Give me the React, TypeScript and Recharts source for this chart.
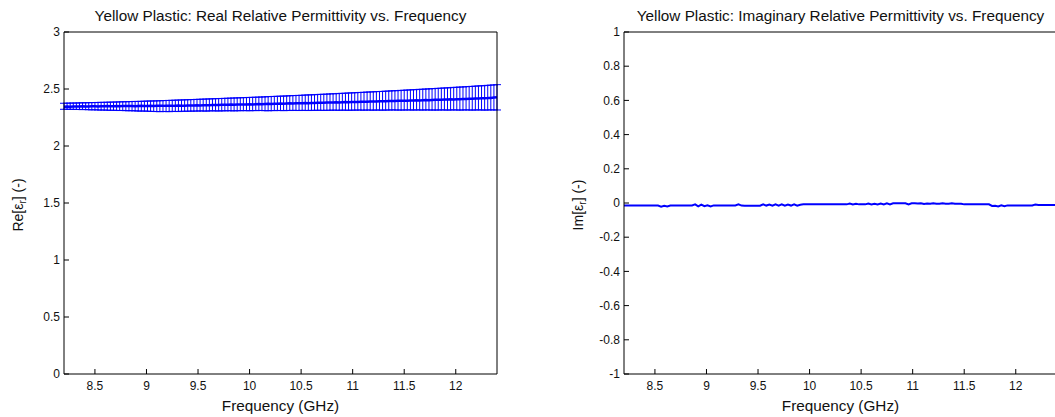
import React from 'react';
import { LineChart, Line, XAxis, YAxis, ErrorBar } from 'recharts';

const FONT = '"Liberation Sans", Arial, Helvetica, sans-serif';
const BLUE = '#0000ff';

const TITLE_RE = 'Yellow Plastic: Real Relative Permittivity vs. Frequency';
const TITLE_IM = 'Yellow Plastic: Imaginary Relative Permittivity vs. Frequency';
const X_LABEL = 'Frequency (GHz)';

const X_TICKS = [8.5, 9, 9.5, 10, 10.5, 11, 11.5, 12];
const RE_Y_TICKS = [0, 0.5, 1, 1.5, 2, 2.5, 3];
const IM_Y_TICKS = [-1, -0.8, -0.6, -0.4, -0.2, 0, 0.2, 0.4, 0.6, 0.8, 1];

const FREQ = [
  8.2, 8.23, 8.26, 8.29, 8.32, 8.35, 8.38, 8.41, 8.44, 8.47,
  8.5, 8.53, 8.56, 8.59, 8.62, 8.65, 8.68, 8.71, 8.74, 8.77,
  8.8, 8.83, 8.86, 8.89, 8.92, 8.95, 8.98, 9.01, 9.04, 9.07,
  9.1, 9.13, 9.16, 9.19, 9.22, 9.25, 9.28, 9.31, 9.34, 9.37,
  9.4, 9.43, 9.46, 9.49, 9.52, 9.55, 9.58, 9.61, 9.64, 9.67,
  9.7, 9.73, 9.76, 9.79, 9.82, 9.85, 9.88, 9.91, 9.94, 9.97,
  10, 10.03, 10.06, 10.09, 10.12, 10.15, 10.18, 10.21, 10.24, 10.27,
  10.3, 10.33, 10.36, 10.39, 10.42, 10.45, 10.48, 10.51, 10.54, 10.57,
  10.6, 10.63, 10.66, 10.69, 10.72, 10.75, 10.78, 10.81, 10.84, 10.87,
  10.9, 10.93, 10.96, 10.99, 11.02, 11.05, 11.08, 11.11, 11.14, 11.17,
  11.2, 11.23, 11.26, 11.29, 11.32, 11.35, 11.38, 11.41, 11.44, 11.47,
  11.5, 11.53, 11.56, 11.59, 11.62, 11.65, 11.68, 11.71, 11.74, 11.77,
  11.8, 11.83, 11.86, 11.89, 11.92, 11.95, 11.98, 12.01, 12.04, 12.07,
  12.1, 12.13, 12.16, 12.19, 12.22, 12.25, 12.28, 12.31, 12.34, 12.37,
  12.4,
];

const RE_MEAN = [
  2.345, 2.346, 2.345, 2.347, 2.346, 2.347, 2.348, 2.347, 2.346, 2.348,
  2.348, 2.347, 2.349, 2.348, 2.35, 2.349, 2.348, 2.35, 2.349, 2.35,
  2.35, 2.351, 2.35, 2.349, 2.351, 2.352, 2.351, 2.35, 2.352, 2.351,
  2.352, 2.353, 2.352, 2.354, 2.353, 2.352, 2.354, 2.355, 2.354, 2.353,
  2.355, 2.356, 2.355, 2.357, 2.356, 2.358, 2.357, 2.358, 2.36, 2.359,
  2.36, 2.361, 2.362, 2.361, 2.363, 2.362, 2.364, 2.363, 2.365, 2.364,
  2.366, 2.365, 2.367, 2.368, 2.367, 2.369, 2.37, 2.369, 2.371, 2.37,
  2.372, 2.371, 2.373, 2.374, 2.373, 2.375, 2.376, 2.375, 2.377, 2.376,
  2.378, 2.377, 2.379, 2.38, 2.379, 2.381, 2.382, 2.381, 2.383, 2.382,
  2.384, 2.385, 2.384, 2.386, 2.387, 2.386, 2.388, 2.389, 2.388, 2.39,
  2.391, 2.39, 2.392, 2.393, 2.392, 2.394, 2.395, 2.394, 2.396, 2.397,
  2.398, 2.397, 2.399, 2.4, 2.401, 2.4, 2.402, 2.403, 2.402, 2.404,
  2.405, 2.406, 2.405, 2.407, 2.408, 2.409, 2.408, 2.41, 2.411, 2.412,
  2.413, 2.414, 2.415, 2.416, 2.417, 2.418, 2.419, 2.42, 2.422, 2.425,
  2.428,
];

const RE_UPPER = [
  2.375, 2.376, 2.376, 2.377, 2.377, 2.378, 2.379, 2.379, 2.38, 2.381,
  2.381, 2.382, 2.383, 2.383, 2.384, 2.385, 2.385, 2.386, 2.387, 2.388,
  2.388, 2.389, 2.39, 2.391, 2.391, 2.392, 2.393, 2.394, 2.395, 2.395,
  2.396, 2.397, 2.398, 2.399, 2.4, 2.401, 2.402, 2.403, 2.404, 2.405,
  2.406, 2.407, 2.408, 2.409, 2.41, 2.411, 2.412, 2.413, 2.414, 2.415,
  2.416, 2.417, 2.418, 2.419, 2.42, 2.421, 2.422, 2.423, 2.424, 2.425,
  2.426, 2.427, 2.428, 2.429, 2.43, 2.431, 2.433, 2.434, 2.435, 2.436,
  2.437, 2.438, 2.439, 2.441, 2.442, 2.443, 2.444, 2.445, 2.447, 2.448,
  2.449, 2.45, 2.452, 2.453, 2.454, 2.455, 2.457, 2.458, 2.459, 2.461,
  2.462, 2.463, 2.465, 2.466, 2.467, 2.469, 2.47, 2.471, 2.473, 2.474,
  2.475, 2.477, 2.478, 2.479, 2.481, 2.482, 2.484, 2.485, 2.486, 2.488,
  2.489, 2.491, 2.492, 2.494, 2.495, 2.497, 2.498, 2.5, 2.501, 2.503,
  2.504, 2.506, 2.507, 2.509, 2.51, 2.512, 2.514, 2.515, 2.517, 2.518,
  2.52, 2.522, 2.523, 2.525, 2.527, 2.528, 2.53, 2.532, 2.534, 2.536,
  2.538,
];

const RE_LOWER = [
  2.322, 2.323, 2.321, 2.322, 2.32, 2.321, 2.319, 2.32, 2.318, 2.317,
  2.318, 2.316, 2.315, 2.316, 2.314, 2.313, 2.314, 2.312, 2.311, 2.312,
  2.31, 2.309, 2.31, 2.308, 2.307, 2.306, 2.307, 2.305, 2.304, 2.303,
  2.302, 2.301, 2.303, 2.302, 2.301, 2.304, 2.303, 2.302, 2.305, 2.304,
  2.306, 2.305, 2.307, 2.306, 2.308, 2.307, 2.306, 2.308, 2.309, 2.308,
  2.307, 2.309, 2.308, 2.31, 2.309, 2.308, 2.31, 2.309, 2.311, 2.31,
  2.309, 2.311, 2.31, 2.312, 2.311, 2.31, 2.309, 2.311, 2.31, 2.312,
  2.311, 2.31, 2.312, 2.311, 2.313, 2.312, 2.311, 2.313, 2.312, 2.311,
  2.313, 2.312, 2.314, 2.313, 2.312, 2.314, 2.313, 2.315, 2.314, 2.313,
  2.315, 2.314, 2.313, 2.315, 2.314, 2.316, 2.315, 2.314, 2.316, 2.315,
  2.314, 2.316, 2.315, 2.314, 2.316, 2.315, 2.317, 2.316, 2.315, 2.316,
  2.315, 2.317, 2.316, 2.315, 2.317, 2.316, 2.315, 2.317, 2.316, 2.315,
  2.316, 2.315, 2.317, 2.316, 2.315, 2.316, 2.317, 2.316, 2.315, 2.316,
  2.317, 2.316, 2.315, 2.316, 2.317, 2.316, 2.315, 2.316, 2.317, 2.316,
  2.316,
];

const IM_MEAN = [
  -0.014, -0.014, -0.015, -0.014, -0.014, -0.014, -0.015, -0.014, -0.014, -0.014,
  -0.014, -0.015, -0.021, -0.016, -0.02, -0.015, -0.014, -0.014, -0.014, -0.014,
  -0.014, -0.014, -0.014, -0.008, -0.02, -0.009, -0.019, -0.014, -0.02, -0.014,
  -0.014, -0.014, -0.014, -0.014, -0.014, -0.014, -0.014, -0.008, -0.015, -0.016,
  -0.016, -0.016, -0.016, -0.016, -0.016, -0.008, -0.015, -0.009, -0.016, -0.008,
  -0.015, -0.008, -0.016, -0.009, -0.015, -0.008, -0.016, -0.01, -0.008, -0.008,
  -0.008, -0.008, -0.008, -0.007, -0.008, -0.008, -0.008, -0.008, -0.007, -0.008,
  -0.008, -0.008, -0.008, -0.003, -0.008, -0.005, -0.008, -0.008, -0.008, -0.003,
  -0.008, -0.004, -0.008, -0.003, -0.008, -0.002, -0.008, -0.002, -0.002, -0.001,
  -0.001, -0.002, -0.008, -0.002, -0.002, -0.003, -0.002, -0.006, -0.003, -0.005,
  -0.002, -0.005, -0.004, -0.002, -0.005, -0.004, -0.002, -0.005, -0.004, -0.005,
  -0.008, -0.008, -0.008, -0.008, -0.008, -0.008, -0.008, -0.008, -0.008, -0.017,
  -0.016, -0.02, -0.014, -0.019, -0.014, -0.014, -0.014, -0.014, -0.014, -0.014,
  -0.014, -0.014, -0.014, -0.009, -0.012, -0.012, -0.012, -0.012, -0.012, -0.012,
  -0.012,
];

const reData = FREQ.map((f, i) => ({
  f,
  mean: RE_MEAN[i],
  err: [RE_MEAN[i] - RE_LOWER[i], RE_UPPER[i] - RE_MEAN[i]],
}));
const imData = FREQ.map((f, i) => ({ f, v: IM_MEAN[i] }));

const fmt = (v: number) => String(Math.round(v * 10) / 10);
const tickStyle = { fill: '#111', fontSize: 12, fontFamily: FONT };

const makeTitle = (text: string) => (props: any) => {
  const vb = props.viewBox;
  return (
    <text x={vb.x + vb.width / 2} y={vb.y + vb.height - 11} textAnchor="middle" fontSize={15.3} fontFamily={FONT} fill="#111">
      {text}
    </text>
  );
};

const xLabel = (props: any) => {
  const vb = props.viewBox;
  return (
    <text x={vb.x + vb.width / 2} y={vb.y + 36.7} textAnchor="middle" fontSize={15.3} fontFamily={FONT} fill="#111">
      {X_LABEL}
    </text>
  );
};

const makeYLabel = (prefix: string) => (props: any) => {
  const vb = props.viewBox;
  const x = vb.x + vb.width - 41.5;
  const y = vb.y + vb.height / 2 + 2;
  return (
    <text x={x} y={y} transform={`rotate(-90 ${x} ${y})`} textAnchor="middle" fontSize={14} fontFamily={FONT} fill="#111">
      {prefix}[ε<tspan dy={3} fontSize={10}>r</tspan>
      <tspan dy={-3}>] (-)</tspan>
    </text>
  );
};

function Panel(props: {
  width: number;
  margin: any;
  yWidth: number;
  data: any[];
  yDomain: number[];
  yTicks: number[];
  title: string;
  yPrefix: string;
  children: React.ReactNode;
}) {
  const { width, margin, yWidth, data, yDomain, yTicks, title, yPrefix, children } = props;
  return (
    <LineChart width={width} height={417} data={data} margin={margin}>
      <XAxis
        xAxisId="b"
        dataKey="f"
        type="number"
        domain={[8.2, 12.4]}
        allowDataOverflow
        ticks={X_TICKS}
        interval={0}
        orientation="bottom"
        height={30}
        tickSize={-5}
        tickMargin={12.5}
        stroke="#000"
        tick={tickStyle}
        tickFormatter={fmt}
        label={xLabel}
      />
      <XAxis
        xAxisId="t"
        dataKey="f"
        type="number"
        domain={[8.2, 12.4]}
        allowDataOverflow
        ticks={X_TICKS}
        interval={0}
        orientation="top"
        height={1}
        tickSize={-5}
        stroke="#000"
        tick={false}
        label={makeTitle(title)}
      />
      <YAxis
        yAxisId="l"
        type="number"
        domain={yDomain}
        allowDataOverflow
        ticks={yTicks}
        interval={0}
        orientation="left"
        width={yWidth}
        tickSize={-5}
        tickMargin={9}
        stroke="#000"
        tick={tickStyle}
        tickFormatter={fmt}
        label={makeYLabel(yPrefix)}
      />
      <YAxis
        yAxisId="r"
        type="number"
        domain={yDomain}
        allowDataOverflow
        ticks={yTicks}
        interval={0}
        orientation="right"
        width={1}
        tickSize={-5}
        stroke="#000"
        tick={false}
      />
      {children}
    </LineChart>
  );
}

export default function App() {
  return (
    <div style={{ position: 'absolute', left: 0, top: 0, width: 1055, height: 417, overflow: 'hidden', background: '#fff' }}>
      <div style={{ position: 'absolute', left: 0, top: 0 }}>
        <Panel
          width={520}
          margin={{ top: 31, right: 22, bottom: 13, left: 14 }}
          yWidth={50}
          data={reData}
          yDomain={[0, 3]}
          yTicks={RE_Y_TICKS}
          title={TITLE_RE}
          yPrefix="Re"
        >
          <Line xAxisId="b" yAxisId="l" dataKey="mean" stroke="none" dot={false} isAnimationActive={false}>
            <ErrorBar dataKey="err" direction="y" width={4} stroke={BLUE} strokeWidth={1} isAnimationActive={false} />
          </Line>
          <Line xAxisId="b" yAxisId="l" dataKey="mean" stroke={BLUE} strokeWidth={2.5} dot={false} isAnimationActive={false} />
        </Panel>
      </div>
      <div style={{ position: 'absolute', left: 530, top: 0 }}>
        <Panel
          width={540}
          margin={{ top: 31, right: 12, bottom: 13, left: 34 }}
          yWidth={60}
          data={imData}
          yDomain={[-1, 1]}
          yTicks={IM_Y_TICKS}
          title={TITLE_IM}
          yPrefix="Im"
        >
          <Line xAxisId="b" yAxisId="l" dataKey="v" stroke={BLUE} strokeWidth={2} dot={false} isAnimationActive={false} />
        </Panel>
      </div>
    </div>
  );
}
